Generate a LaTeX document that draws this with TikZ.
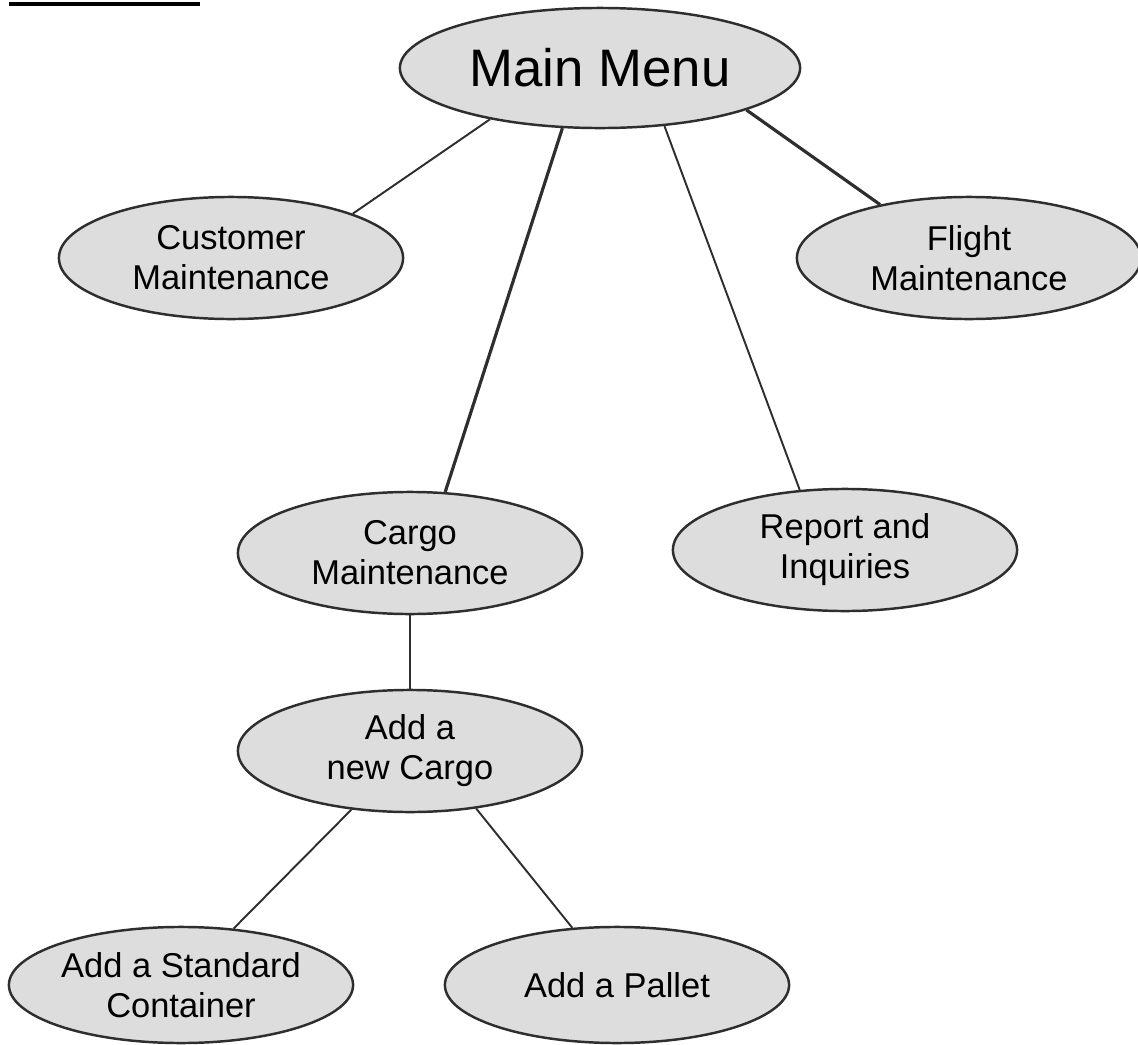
\documentclass[tikz,border=0pt]{standalone}
\usepackage{fontspec}
\setmainfont{Liberation Sans}
\usetikzlibrary{shapes.geometric}
\definecolor{ovalfill}{HTML}{DDDDDD}
\definecolor{ovalline}{HTML}{2E2E2E}
\tikzset{
  menu/.style={ellipse, draw=ovalline, line width=0.7pt, fill=ovalfill, inner sep=0pt,
    minimum width=3.44cm, minimum height=1.22cm, align=center,
    font=\fontsize{9.8}{11.4}\selectfont},
  link/.style={draw=ovalline, line width=0.55pt},
  boldlink/.style={draw=ovalline, line width=0.9pt}
}

\begin{document}
\begin{tikzpicture}[x=0.01cm, y=-0.01cm]
  \useasboundingbox (0,0) rectangle (1138,1045);
  % heading rule (cut off)
  \draw[line width=1pt] (9,4) -- (200,4);

  % top level
  \node[menu, minimum width=4cm, minimum height=1.2cm,
        font=\fontsize{15}{18}\selectfont] (main) at (600,68) {Main Menu};
  \node[menu] (customer) at (231,258) {Customer\\Maintenance};
  \node[menu] (flight) at (969,258) {Flight\\Maintenance};
  \node[menu] (cargo) at (410,553) {Cargo\\Maintenance};
  \node[menu] (report) at (845,550) {Report and\\Inquiries};

  % cargo sub menus
  \node[menu] (newcargo) at (410,751) {Add a\\new Cargo};
  \node[menu, minimum height=1.16cm] (container) at (181,985) {Add a Standard\\Container};
  \node[menu, minimum height=1.16cm] (pallet) at (617,985) {Add a Pallet};

  % links
  \draw[link] (main.205) -- (customer.20);
  \draw[boldlink] (main.238) -- (cargo.60);
  \draw[link] (main.318) -- (report.127);
  \draw[boldlink] (main.344) -- (flight.149);
  \draw[link] (cargo.south) -- (newcargo.north);
  \draw[link] (newcargo.225) -- (container.47);
  \draw[link] (newcargo.319) -- (pallet.128);
\end{tikzpicture}
\end{document}
